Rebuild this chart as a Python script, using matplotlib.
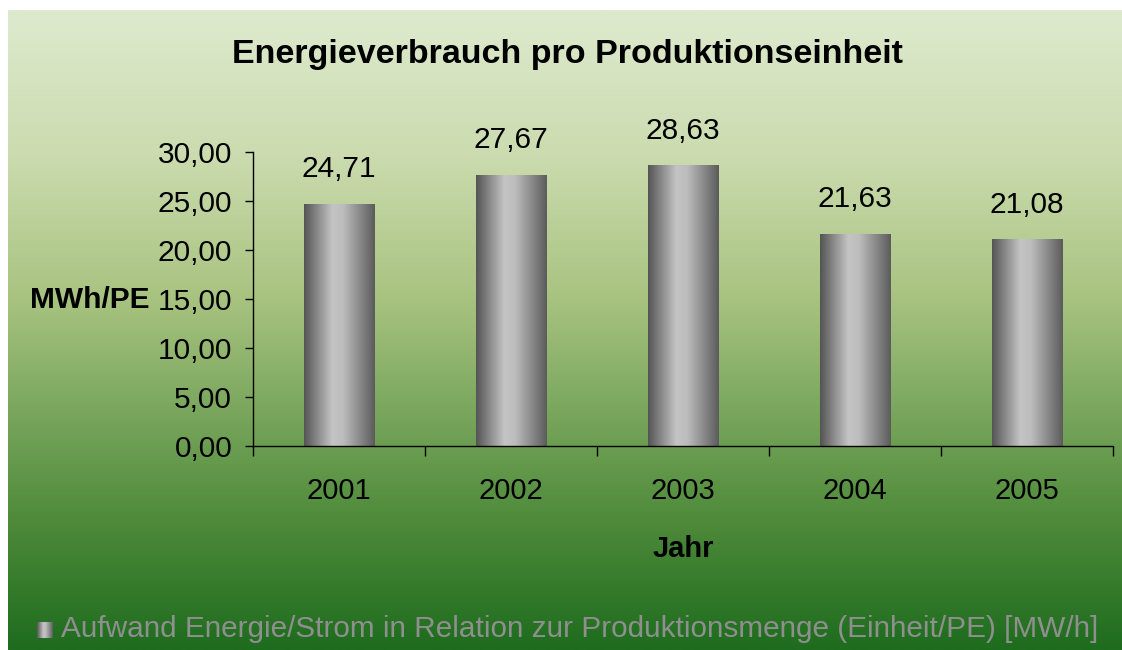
import numpy as np
import matplotlib.pyplot as plt
from matplotlib.colors import LinearSegmentedColormap

plt.rcParams['font.family'] = ['Liberation Sans', 'DejaVu Sans']

years = ['2001', '2002', '2003', '2004', '2005']
werte = [24.71, 27.67, 28.63, 21.63, 21.08]
werte_text = ['24,71', '27,67', '28,63', '21,63', '21,08']
y_ticks = [0, 5, 10, 15, 20, 25, 30]
y_labels = ['0,00', '5,00', '10,00', '15,00', '20,00', '25,00', '30,00']

titel = 'Energieverbrauch pro Produktionseinheit'
legende = 'Aufwand Energie/Strom in Relation zur Produktionsmenge (Einheit/PE) [MW/h]'

W, H = 1122, 650
fig = plt.figure(figsize=(W / 100, H / 100), dpi=100)
fig.patch.set_facecolor('white')

# background gradient (white strip on top and left)
bg = fig.add_axes([8 / W, 0, 1 - 8 / W, 1 - 10 / H])
bg.set_axis_off()
bg_cmap = LinearSegmentedColormap.from_list('bg', [
    (0.0, (222/255, 234/255, 206/255)),
    (0.22, (204/255, 220/255, 176/255)),
    (0.45, (168/255, 195/255, 128/255)),
    (0.68, (108/255, 158/255, 82/255)),
    (0.80, (78/255, 138/255, 58/255)),
    (1.0, (30/255, 108/255, 30/255)),
])
grad = np.linspace(0, 1, 256).reshape(-1, 1)
bg.imshow(grad, aspect='auto', cmap=bg_cmap, extent=[0, 1, 0, 1], origin='upper')
bg.set_xlim(0, 1)
bg.set_ylim(0, 1)

ax = fig.add_axes([253 / W, 1 - 446 / H, (1113 - 253) / W, (446 - 152) / H])
ax.patch.set_alpha(0)

bar_cmap = LinearSegmentedColormap.from_list('bar', [
    (0.0, (0.33, 0.33, 0.33)),
    (0.4, (0.77, 0.77, 0.77)),
    (0.55, (0.74, 0.74, 0.74)),
    (1.0, (0.36, 0.36, 0.36)),
])
hgrad = np.linspace(0, 1, 256).reshape(1, -1)

x = np.arange(len(years))
bars = ax.bar(x, werte, width=0.41, color='none', edgecolor='none', zorder=2)
for b in bars:
    im = ax.imshow(hgrad, aspect='auto', cmap=bar_cmap,
                   extent=[b.get_x(), b.get_x() + b.get_width(), 0, b.get_height()],
                   zorder=2)
    im.set_clip_path(b)

for xi, v, t in zip(x, werte, werte_text):
    ax.annotate(t, (xi, v), xytext=(0, 15), textcoords='offset points',
                ha='center', va='bottom', fontsize=21.5)

ax.set_xlim(-0.5, len(years) - 0.5)
ax.set_ylim(0, 30)
ax.set_yticks(y_ticks)
ax.set_yticklabels(y_labels, fontsize=21.5)
ax.set_xticks(np.arange(len(years) + 1) - 0.5)
ax.set_xticklabels([])
ax.set_xticks(x, minor=True)
ax.set_xticklabels(years, minor=True, fontsize=21)
ax.tick_params(axis='x', which='major', length=7, direction='out', width=1)
ax.tick_params(axis='x', which='minor', length=0, pad=22)
ax.tick_params(axis='y', length=6, direction='out', width=1, pad=9)
for s in ['top', 'right']:
    ax.spines[s].set_visible(False)
ax.spines['left'].set_linewidth(1)
ax.spines['bottom'].set_linewidth(1)

ax.set_xlabel('Jahr', fontsize=21, fontweight='bold', labelpad=22)
fig.text(90 / W, 1 - 300 / H, 'MWh/PE', fontsize=21.5, fontweight='bold',
         ha='center', va='center')

fig.text(567 / W, 1 - 55 / H, titel, fontsize=24.5, fontweight='bold',
         ha='center', va='center')

# legend
lg = fig.add_axes([37 / W, 1 - 638 / H, 16 / W, 16 / H])
lg.imshow(hgrad, aspect='auto', cmap=bar_cmap, extent=[0, 1, 0, 1])
lg.set_axis_off()
fig.text(61 / W, 1 - 629 / H, legende, fontsize=21.4, color='#8f8f8f',
         ha='left', va='center')

fig.savefig('out.png', dpi=100)
